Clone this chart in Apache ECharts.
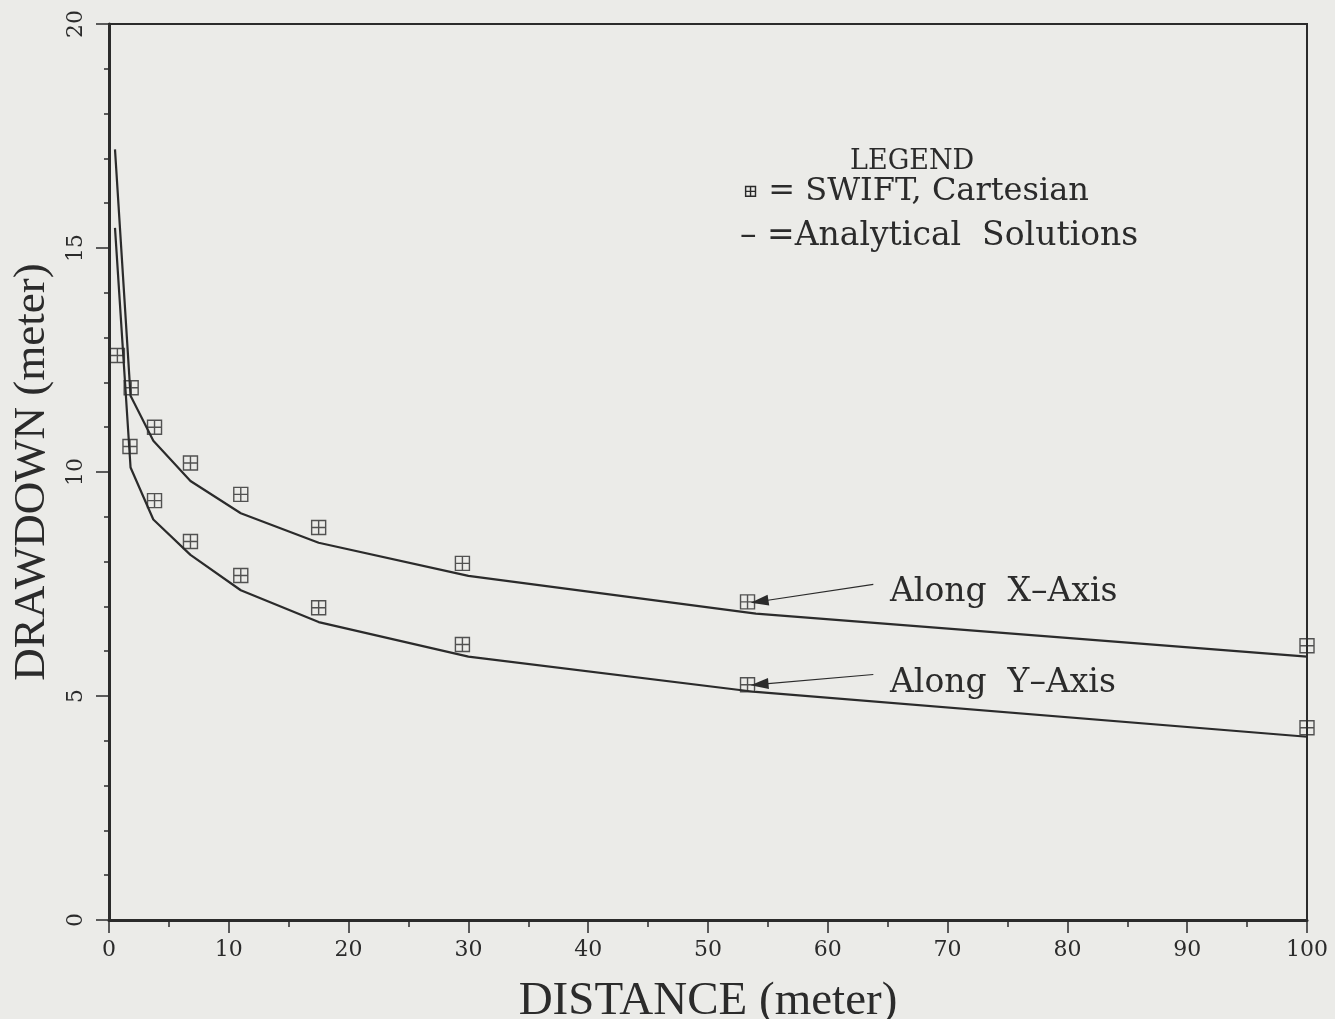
<!DOCTYPE html>
<html lang="en">
<head>
	<meta charset="UTF-8">
	<title>Drawdown vs distance</title>
	<style type="text/css">
		html, body { margin: 0; padding: 0; background: #ebebe8; }
		#main { width: 1335px; height: 1019px; }
	</style>
	<script src="https://cdn.jsdelivr.net/npm/echarts@6/dist/echarts.min.js"></script>
</head>
<body>
	<div id="main"></div>
	<script type="text/javascript">
	// analytical solution, polyline vertices
	var lineDist = [0.5, 1.8, 3.7, 6.8, 11, 17.5, 30, 54, 100];
	var lineX = [17.2, 11.7, 10.7, 9.8, 9.08, 8.42, 7.68, 6.84, 5.88];
	var lineY = [15.45, 10.1, 8.94, 8.15, 7.36, 6.65, 5.88, 5.09, 4.09];

	// SWIFT cartesian results
	var swiftDist = [0.7, 1.85, 3.8, 6.8, 11, 17.5, 29.5, 53.3, 100];
	var swiftX = [12.6, 11.88, 11.0, 10.2, 9.5, 8.76, 7.96, 7.1, 6.12];
	var swiftDistY = [1.75, 3.8, 6.8, 11, 17.5, 29.5, 53.3, 100];
	var swiftY = [10.57, 9.36, 8.45, 7.69, 6.97, 6.15, 5.25, 4.29];

	// annotation arrows [from, to] in data units
	var arrowX = [[63.8, 7.49], [54.3, 7.11]];
	var arrowY = [[63.8, 5.48], [54.3, 5.26]];

	var ink = '#2b2b2b';
	var serif = 'Liberation Serif';
	var wide = 'DejaVu Serif';
	var boxPlus = 'path://M0,0 L10,0 L10,10 L0,10 Z M5,0 L5,10 M0,5 L10,5';

	function pairs(xs, ys) {
		var out = [];
		for (var i = 0; i < xs.length; i++) out.push([xs[i], ys[i]]);
		return out;
	}
	function arrowLine(a) {
		return {
			silent: true, symbol: ['none', 'triangle'], symbolSize: [11, 18],
			label: { show: false },
			lineStyle: { color: ink, width: 1.2, type: 'solid' },
			data: [[{ coord: a[0] }, { coord: a[1] }]]
		};
	}
	function txt(x, y, s, size, extra) {
		var style = { text: s, fill: ink, font: size + 'px "' + wide + '"' };
		if (extra) style.rich = extra;
		return { type: 'text', left: x, top: y - size / 2 + 2, style: style };
	}

	var myChart = echarts.init(document.getElementById('main'));
	var option = {
		backgroundColor: '#ebebe8',
		animation: false,
		grid: {
			left: 109, right: 28, top: 24, bottom: 99,
			show: true, borderColor: ink, borderWidth: 2,
			outerBoundsMode: 'none'
		},
		xAxis: {
			type: 'value', min: 0, max: 100, interval: 10,
			name: 'DISTANCE (meter)', nameLocation: 'middle', nameGap: 58,
			nameTextStyle: { color: ink, fontFamily: serif, fontSize: 47 },
			axisLine: { lineStyle: { color: ink, width: 3 } },
			axisTick: { length: 13, lineStyle: { color: ink, width: 1.5 } },
			minorTick: { show: true, splitNumber: 2, length: 7, lineStyle: { color: ink, width: 1.5 } },
			axisLabel: { color: ink, fontFamily: wide, fontSize: 22, margin: 19 },
			splitLine: { show: false }
		},
		yAxis: {
			type: 'value', min: 0, max: 20, interval: 5,
			name: 'DRAWDOWN (meter)', nameLocation: 'middle', nameGap: 54, nameRotate: 90,
			nameTextStyle: { color: ink, fontFamily: serif, fontSize: 45 },
			axisLine: { lineStyle: { color: ink, width: 3 } },
			axisTick: { length: 13, lineStyle: { color: ink, width: 1.5 } },
			minorTick: { show: true, splitNumber: 5, length: 5, lineStyle: { color: ink, width: 1.5 } },
			axisLabel: { color: ink, fontFamily: wide, fontSize: 22, rotate: 90, margin: 22 },
			splitLine: { show: false }
		},
		series: [
			{
				name: 'Analytical X', type: 'line', data: pairs(lineDist, lineX),
				showSymbol: false, lineStyle: { color: ink, width: 2.2 },
				markLine: arrowLine(arrowX)
			},
			{
				name: 'Analytical Y', type: 'line', data: pairs(lineDist, lineY),
				showSymbol: false, lineStyle: { color: ink, width: 2.2 },
				markLine: arrowLine(arrowY)
			},
			{
				name: 'SWIFT X', type: 'scatter', data: pairs(swiftDist, swiftX),
				symbol: boxPlus, symbolSize: 14,
				itemStyle: { color: 'rgba(0,0,0,0)', borderColor: ink, borderWidth: 1.4 }
			},
			{
				name: 'SWIFT Y', type: 'scatter', data: pairs(swiftDistY, swiftY),
				symbol: boxPlus, symbolSize: 14,
				itemStyle: { color: 'rgba(0,0,0,0)', borderColor: ink, borderWidth: 1.4 }
			}
		],
		graphic: [
			txt(850, 160, 'LEGEND', 27),
			txt(743, 190, '{b|\u229E} = SWIFT, Cartesian', 32,
				{ b: { fontSize: 18, fontFamily: wide, fill: ink } }),
			txt(740, 234, '\u2013 =Analytical  Solutions', 33),
			txt(890, 590, 'Along  X\u2013Axis', 33),
			txt(890, 681, 'Along  Y\u2013Axis', 33)
		]
	};
	myChart.setOption(option);
	</script>
</body>
</html>
